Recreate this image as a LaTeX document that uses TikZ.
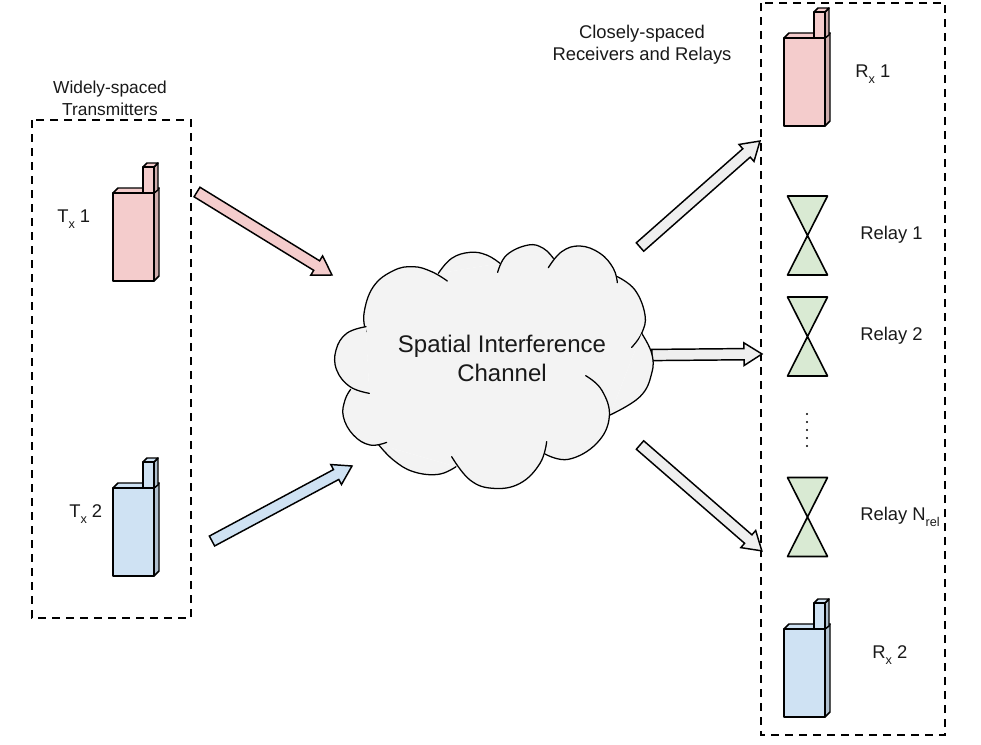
\documentclass[tikz,border=0pt]{standalone}
\usepackage{fontspec}
\setmainfont{Liberation Sans}
\usetikzlibrary{calc}
\definecolor{cred}{HTML}{F4CCCC}
\definecolor{cblue}{HTML}{CFE2F3}
\definecolor{cgreen}{HTML}{D9EAD3}
\definecolor{cgrey}{HTML}{F3F3F3}
\definecolor{cgreyb}{HTML}{EFEFEF}
\tikzset{
  lbl/.style={font=\fontsize{13.8pt}{16.5pt}\selectfont,inner sep=0pt,align=center,text=black!90},
  dashbox/.style={draw=black,line width=1pt,dash pattern=on 6pt off 4.5pt},
  lobeline/.style={draw=black,line width=0.95pt,line cap=round},
  pics/phone/.style={code={
    \draw[line width=1.1pt,line join=round,fill=#1!85!black] (41,0) -- (46,-5) -- (46,83) -- (41,88) -- cycle;
    \draw[line width=1.1pt,line join=round,fill=#1] (0,0) -- (5,-5) -- (46,-5) -- (41,0) -- cycle;
    \draw[line width=1.1pt,line join=round,fill=#1!85!black] (41,-26) -- (45,-30) -- (45,-3) -- (41,0) -- cycle;
    \draw[line width=1.1pt,line join=round,fill=#1] (30,-26) -- (34,-30) -- (45,-30) -- (41,-26) -- cycle;
    \draw[line width=1.1pt,line join=round,fill=#1] (30,0) rectangle (41,-26);
    \draw[line width=1.1pt,line join=round,fill=#1] (0,0) rectangle (41,88);
  }},
  pics/hourglass/.style={code={
    \draw[line width=1.2pt,line join=round,fill=cgreen] (-20,-39.5) -- (20,-39.5) -- (-20,39.5) -- (20,39.5) -- cycle;
  }}
}
% block arrow between two named coordinates (all offsets in pt; 1 px = 0.75 pt)
\newcommand{\blockarrow}[3]{%
  \draw[line width=1.1pt,line join=miter,fill=#3]
    let \p1=(#1), \p2=(#2), \n1={atan2(\y2-\y1,\x2-\x1)}, \n2={veclen(\x2-\x1,\y2-\y1)} in
    [shift={(#1)},rotate=\n1]
    (0pt,-4.2pt) -- ({\n2-13.5pt},-4.2pt) -- ({\n2-13.5pt},-8.5pt) -- (\n2,0pt) -- ({\n2-13.5pt},8.5pt) -- ({\n2-13.5pt},4.2pt) -- (0pt,4.2pt) -- cycle;
}
\newcommand{\lobe}[1]{%
 \fill[cgrey] plot[smooth,tension=0.7] coordinates {#1};
 \draw[lobeline] plot[smooth,tension=0.7] coordinates {#1};
}
\newcommand{\subx}[1]{\raisebox{-0.55ex}{\fontsize{9.5pt}{9.5pt}\selectfont #1}}
\begin{document}
\begin{tikzpicture}[x=0.75pt,y=-0.75pt]
\useasboundingbox (0,0) rectangle (981,744);
% dashed frames
\draw[dashbox] (32,120) rectangle (191,618);
\draw[dashbox] (761,3) rectangle (945,735);
% anchors of the arrows
\coordinate (a1s) at (197,192); \coordinate (a1e) at (332,275);
\coordinate (a2s) at (212,541); \coordinate (a2e) at (352,466);
\coordinate (a3s) at (640,247); \coordinate (a3e) at (760,141);
\coordinate (a4s) at (652,355); \coordinate (a4e) at (762,354);
\coordinate (a5s) at (640,445); \coordinate (a5e) at (762,551);
\blockarrow{a1s}{a1e}{cred}
\blockarrow{a2s}{a2e}{cblue}
\blockarrow{a3s}{a3e}{cgreyb}
\blockarrow{a4s}{a4e}{cgreyb}
\blockarrow{a5s}{a5e}{cgreyb}
% cloud
\begin{scope}[shift={(330,230)},x=0.25pt,y=-0.25pt]
\fill[cgrey] (108,305) -- (325,130) -- (510,100) -- (670,85) -- (862,140) -- (935,310) -- (840,555) -- (645,672) -- (378,710) -- (145,643) -- (62,478) -- (118,490) -- cycle;
\lobe{(108,305)(102,250)(130,170)(190,122)(250,110)(305,125)(352,153)}
\lobe{(325,130)(365,85)(420,67)(470,75)(510,100)}
\lobe{(503,127)(530,75)(595,45)(640,55)(670,85)}
\lobe{(655,113)(695,65)(750,48)(810,70)(850,115)(862,158)}
\lobe{(862,140)(915,180)(945,255)(935,310)(905,352)}
\lobe{(935,310)(965,370)(965,430)(930,500)(840,555)}
\lobe{(767,437)(815,480)(838,560)(800,640)(715,688)(645,672)}
\lobe{(650,635)(630,700)(570,760)(490,775)(420,750)(365,680)}
\lobe{(378,710)(325,733)(250,725)(190,690)(145,643)}
\lobe{(170,637)(120,645)(70,615)(40,560)(45,510)(62,478)}
\lobe{(118,490)(60,470)(20,420)(18,360)(50,310)(108,290)}
\end{scope}
\node[lbl,font=\fontsize{18pt}{21.75pt}\selectfont] (cloudtext) at (502,358.5) {Spatial Interference\\Channel};
% devices
\pic at (113,193) {phone=cred};
\pic at (113,488) {phone=cblue};
\pic at (784,38) {phone=cred};
\pic at (784,629) {phone=cblue};
\pic at (807.5,235.5) {hourglass};
\pic at (807.5,336.5) {hourglass};
\pic at (807.5,517) {hourglass};
\foreach \yy in {414,422,430,438,446} \fill (807,\yy) circle (1.2);
% labels
\node[lbl,font=\fontsize{13pt}{16.5pt}\selectfont] (wide) at (110,98) {Widely-spaced\\Transmitters};
\node[lbl] (close) at (642,45) {Closely-spaced\\Receivers and Relays};
\node[lbl,anchor=west] (tx1) at (57,219) {T\subx{x} 1};
\node[lbl,anchor=west] (tx2) at (69,514) {T\subx{x} 2};
\node[lbl,anchor=west] (rx1) at (855,74) {R\subx{x} 1};
\node[lbl,anchor=west] (rx2) at (872,655) {R\subx{x} 2};
\node[lbl,anchor=west] (r1) at (860,235) {Relay 1};
\node[lbl,anchor=west] (r2) at (860,336) {Relay 2};
\node[lbl,anchor=west] (rn) at (860,517) {Relay N\subx{rel}};
\end{tikzpicture}
\end{document}
